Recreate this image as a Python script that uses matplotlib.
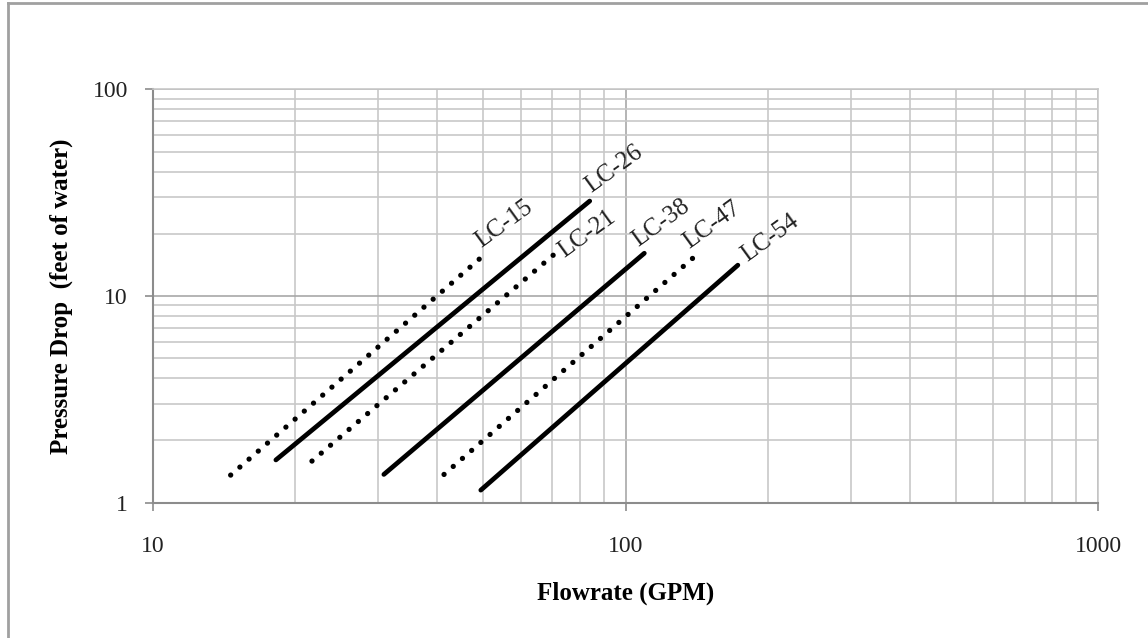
import numpy as np
import matplotlib.pyplot as plt
from matplotlib.lines import Line2D
from matplotlib.ticker import LogLocator, NullFormatter, FixedLocator, FixedFormatter

plt.rcParams['font.family'] = ['Liberation Serif', 'DejaVu Serif']

# one row per model: flow range (GPM) and pressure drop range (ft of water)
names = ['LC-15', 'LC-26', 'LC-21', 'LC-38', 'LC-47', 'LC-54']
flow_start = [14.6, 18.2, 21.7, 30.8, 41.3, 49.4]
flow_end = [50.2, 84.0, 73.1, 109.6, 142.7, 172.9]
dp_start = [1.36, 1.61, 1.59, 1.37, 1.37, 1.15]
dp_end = [15.8, 28.8, 17.0, 16.1, 16.1, 14.1]
dotted = [True, False, True, False, True, False]

x_ticks = [10, 100, 1000]
y_ticks = [1, 10, 100]

# label offsets from line end, pixels (right, down)
label_offsets = {
    'LC-15': (-3, -7),
    'LC-26': (1, -8),
    'LC-21': (3, 10),
    'LC-38': (-6, -6),
    'LC-47': (-9, -4),
    'LC-54': (9, -3),
}

W, H = 1148, 638
fig = plt.figure(figsize=(W / 100, H / 100), dpi=100)
fig.set_facecolor('white')

left, right, top, bottom = 153, 1098, 89.3, 502.7
ax = fig.add_axes([left / W, 1 - bottom / H, (right - left) / W, (bottom - top) / H])

ax.set_xscale('log')
ax.set_yscale('log')
ax.set_xlim(10, 1000)
ax.set_ylim(1, 100)

major_col = '#a8a8a8'
minor_col = '#c8c8c8'
ax.xaxis.set_minor_locator(LogLocator(base=10, subs=np.arange(2, 10)))
ax.yaxis.set_minor_locator(LogLocator(base=10, subs=np.arange(2, 10)))
ax.xaxis.set_minor_formatter(NullFormatter())
ax.yaxis.set_minor_formatter(NullFormatter())
ax.xaxis.set_major_locator(FixedLocator(x_ticks))
ax.xaxis.set_major_formatter(FixedFormatter([str(v) for v in x_ticks]))
ax.yaxis.set_major_locator(FixedLocator(y_ticks))
ax.yaxis.set_major_formatter(FixedFormatter([str(v) for v in y_ticks]))

ax.grid(True, which='minor', color=minor_col, lw=1.2, zorder=0)
ax.grid(True, which='major', color=major_col, lw=1.2, zorder=0)
ax.set_axisbelow(True)

ax.tick_params(which='minor', length=0)
ax.tick_params(which='major', length=6, width=1.2, color='#8c8c8c',
               labelsize=17, labelcolor='#222222')
ax.tick_params(axis='y', which='major', pad=12)
ax.tick_params(axis='x', which='major', pad=18)

for side in ['left', 'bottom']:
    ax.spines[side].set_color('#8c8c8c')
    ax.spines[side].set_linewidth(1.5)
for side in ['top', 'right']:
    ax.spines[side].set_color(minor_col)
    ax.spines[side].set_linewidth(1.2)

for i, name in enumerate(names):
    xs = [flow_start[i], flow_end[i]]
    ys = [dp_start[i], dp_end[i]]
    if dotted[i]:
        ax.plot(xs, ys, color='black', lw=3.8, linestyle=(0, (0.01, 2.3)),
                dash_capstyle='round', zorder=3)
    else:
        ax.plot(xs, ys, color='black', lw=3.4, solid_capstyle='round', zorder=3)
    dx, dy = label_offsets[name]
    ax.annotate(name, xy=(flow_end[i], dp_end[i]),
                xytext=(dx * 0.72, -dy * 0.72), textcoords='offset points',
                ha='left', va='baseline', rotation=36, rotation_mode='anchor',
                fontsize=18, color='#222222', zorder=4)

ax.set_xlabel('Flowrate (GPM)', fontsize=18, fontweight='bold', labelpad=18)
ax.set_ylabel('Pressure Drop  (feet of water)', fontsize=18, fontweight='bold',
              labelpad=14)

# outer chart border (left and top edges visible)
fig.add_artist(Line2D([8 / W, 8 / W], [0, 1 - 3 / H], color='#a0a0a0', lw=2))
fig.add_artist(Line2D([8 / W, 1], [1 - 3 / H, 1 - 3 / H], color='#a0a0a0', lw=2))

fig.savefig('out.png', dpi=100)
